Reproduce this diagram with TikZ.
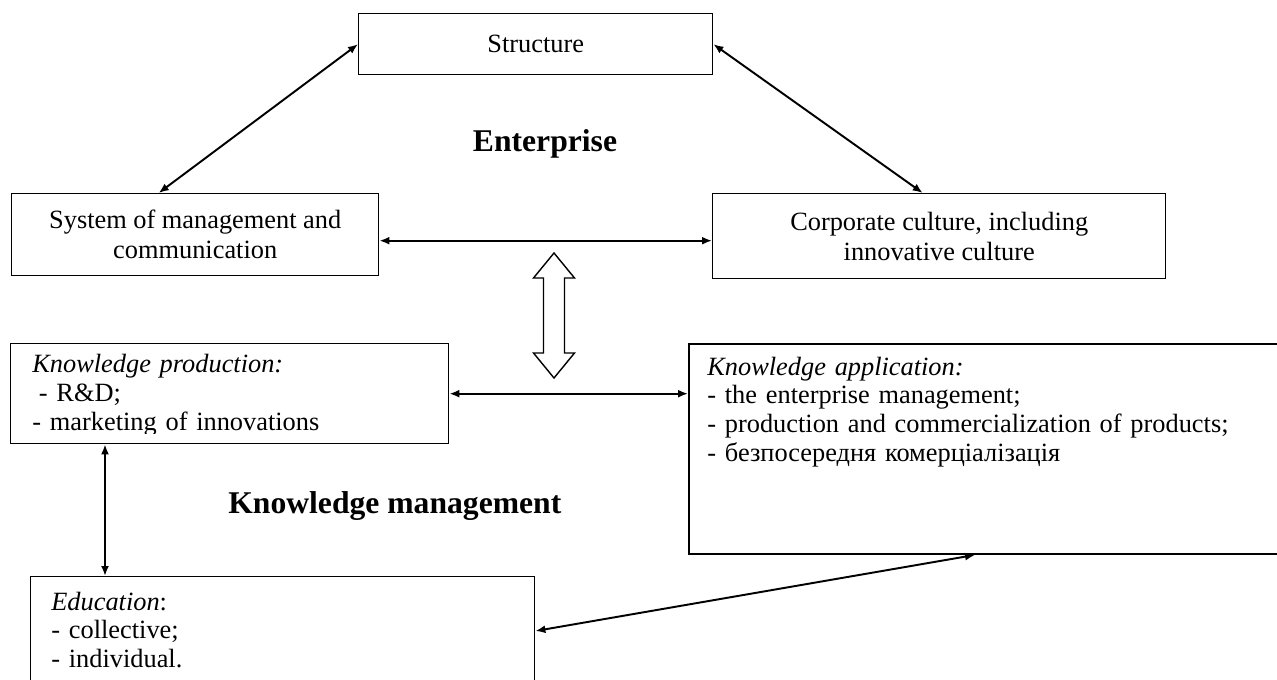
\documentclass[tikz,border=0pt]{standalone}
\usepackage{fontspec}
\setmainfont{Liberation Serif}
\usetikzlibrary{arrows.meta, positioning}

\begin{document}
\begin{tikzpicture}[
    >={Latex[length=2mm,width=1.6mm]},
    box/.style={draw, rectangle, line width=0.8pt, inner sep=0pt, anchor=north west},
    boxtext/.style={font=\fontsize{15}{17}\selectfont, align=center},
    listtext/.style={font=\fontsize{15}{16.5}\selectfont, text width=#1, align=left, inner sep=0pt, anchor=base west},
    heading/.style={font=\fontsize{18}{20}\selectfont\bfseries, inner sep=0pt},
    biarrow/.style={<->, line width=1.1pt}
]
    % page frame, the lower boxes run off it
    \clip (0,0) rectangle (25.54,-13.6);

    % Enterprise level
    \node[box, boxtext, minimum width=7.08cm, minimum height=1.22cm] (structure) at (7.16,-0.26) {Structure};
    \node[box, boxtext, minimum width=7.34cm, minimum height=1.64cm] (system) at (0.22,-3.86)
        {System of management and\\communication};
    \node[box, boxtext, minimum width=9.06cm, minimum height=1.70cm] (corporate) at (14.24,-3.86)
        {Corporate culture, including\\innovative culture};
    \node[heading, anchor=base] (enterprise) at (10.90,-3.04) {Enterprise};

    \draw[biarrow] ([xshift=-0.73cm]system.north) -- (structure.west);
    \draw[biarrow] (structure.east) -- ([xshift=-0.33cm]corporate.north);
    \draw[biarrow] ([yshift=-0.12cm]system.east) -- ([yshift=-0.12cm]system.east -| corporate.west);

    % hollow two-way arrow between the levels
    \coordinate (exchange) at (11.08,-6.31);
    \draw[line width=0.8pt, fill=white] ([yshift=1.25cm]exchange) -- ++(0.41,-0.5) -- ++(-0.2,0)
        -- ++(0,-1.5) -- ++(0.2,0) -- ++(-0.41,-0.5) -- ++(-0.41,0.5) -- ++(0.2,0)
        -- ++(0,1.5) -- ++(-0.2,0) -- cycle;

    % Knowledge management level
    \node[box, minimum width=8.76cm, minimum height=2.00cm] (production) at (0.20,-6.86) {};
    \begin{scope}
        \clip (production.north west) rectangle ([yshift=0.22cm]production.south east);
        \node[listtext=8.2cm] (prodtext) at ([xshift=0.44cm, yshift=-0.60cm]production.north west)
            {\textit{Knowledge production:}\\
             \hspace{0.25em}- R\&D;\\
             - marketing of innovations};
    \end{scope}

    \node[box, line width=1.1pt, minimum width=12.2cm, minimum height=4.20cm] (application) at (13.76,-6.86) {};
    \node[listtext=11.5cm] (apptext) at ([xshift=0.38cm, yshift=-0.64cm]application.north west)
        {\textit{Knowledge application:}\\
         - the enterprise management;\\
         - production and commercialization of products;\\
         - безпосередня комерціалізація};

    \node[box, minimum width=10.08cm, minimum height=3.0cm] (education) at (0.60,-11.52) {};
    \node[listtext=9.5cm] (edutext) at ([xshift=0.42cm, yshift=-0.68cm]education.north west)
        {\textit{Education}:\\
         - collective;\\
         - individual.};

    \node[heading, anchor=base west] (knowledge) at (4.56,-10.26) {Knowledge management};

    \draw[biarrow] (production.east) -- (production.east -| application.west);
    \draw[biarrow] ([xshift=1.9cm]production.south west) -- ([xshift=1.9cm]production.south west |- education.north);
    \draw[biarrow] ([yshift=-1.1cm]education.north east) -- ([xshift=5.74cm]application.south west);
\end{tikzpicture}
\end{document}
